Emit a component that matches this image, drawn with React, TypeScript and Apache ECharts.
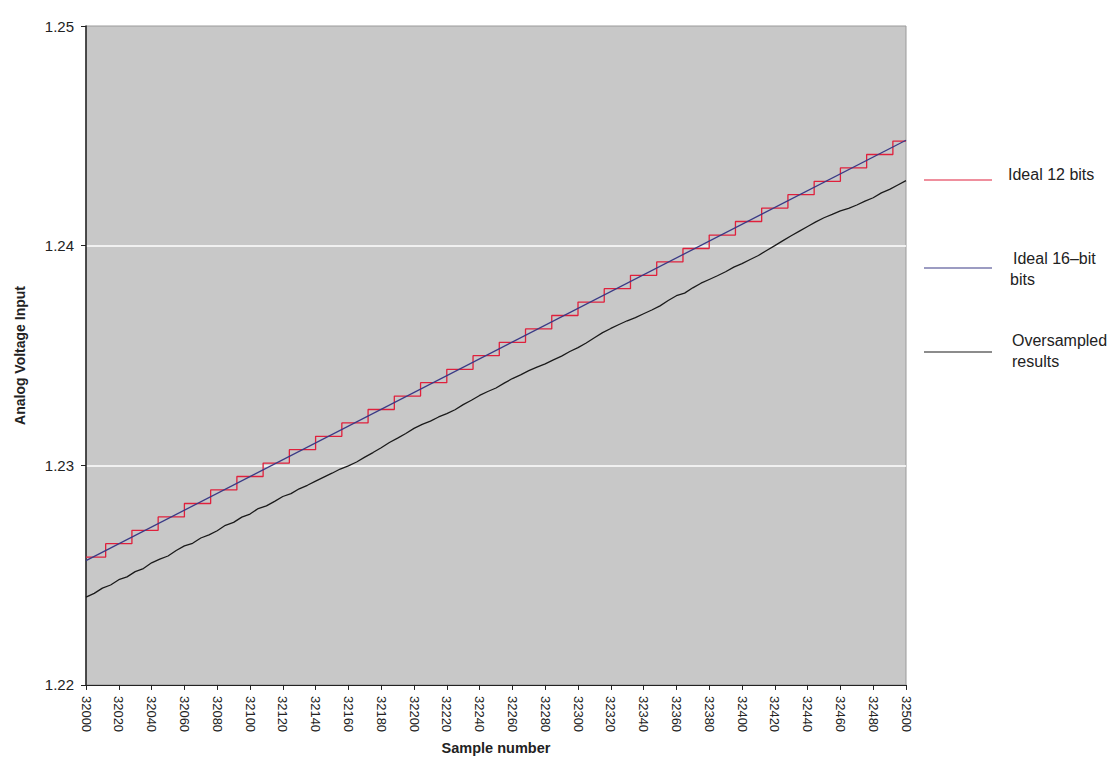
import React, { useEffect, useRef } from "react";
import * as echarts from "echarts";

// ---- data ----
const idealSamples = [32000, 32500];
const ideal16Values = [1.22566, 1.2448];

const stepSamples = [
  32000, 32012, 32028, 32044, 32060, 32076, 32092, 32108, 32124, 32140, 32156,
  32172, 32188, 32204, 32220, 32236, 32252, 32268, 32284, 32300, 32316, 32332,
  32348, 32364, 32380, 32396, 32412, 32428, 32444, 32460, 32476, 32492, 32500,
];
const ideal12Values = [
  1.22582, 1.22643, 1.22704, 1.22765, 1.22826, 1.22888, 1.22949, 1.2301,
  1.23071, 1.23132, 1.23193, 1.23254, 1.23315, 1.23376, 1.23437, 1.23499,
  1.2356, 1.23621, 1.23682, 1.23743, 1.23804, 1.23865, 1.23926, 1.23987,
  1.24048, 1.2411, 1.24171, 1.24232, 1.24293, 1.24354, 1.24415, 1.24476,
  1.24476,
];

const oversampledStart = 32000;
const oversampledStep = 5;
const oversampledValues = [
  1.224, 1.22417, 1.22441, 1.22455, 1.22479, 1.22492, 1.22516, 1.2253, 1.22556,
  1.22573, 1.22587, 1.22612, 1.22633, 1.22645, 1.22669, 1.22683, 1.22702,
  1.22727, 1.2274, 1.22764, 1.22778, 1.22803, 1.22815, 1.22836, 1.22858,
  1.22871, 1.22893, 1.22909, 1.22928, 1.22946, 1.22964, 1.22983, 1.22997,
  1.23015, 1.23037, 1.23058, 1.2308, 1.23104, 1.23124, 1.23145, 1.23168,
  1.23186, 1.23201, 1.2322, 1.23235, 1.23253, 1.23276, 1.23296, 1.23318,
  1.23336, 1.23352, 1.23374, 1.23395, 1.23412, 1.23431, 1.23447, 1.23462,
  1.2348, 1.23497, 1.23518, 1.23536, 1.23557, 1.23581, 1.23604, 1.23623,
  1.23641, 1.23658, 1.23672, 1.2369, 1.23707, 1.23726, 1.2375, 1.23772,
  1.23784, 1.23808, 1.23829, 1.23846, 1.23863, 1.23881, 1.23902, 1.23918,
  1.23937, 1.23955, 1.23978, 1.24, 1.24023, 1.24045, 1.24066, 1.24087,
  1.24108, 1.24127, 1.24142, 1.24158, 1.2417, 1.24185, 1.24203, 1.24218,
  1.2424, 1.24256, 1.24276, 1.24296,
];

const legendItems = [
  { label: ["Ideal 12 bits"], color: "#e0203c" },
  { label: ["Ideal 16\u2013bit", "bits"], color: "#3a3a86" },
  { label: ["Oversampled", "results"], color: "#1a1a1a" },
];

const FONT = "'Liberation Sans', Arial, sans-serif";

export default function App() {
  const ref = useRef<HTMLDivElement>(null);

  useEffect(() => {
    document.body.style.margin = "0";
    document.body.style.overflow = "hidden";
    if (!ref.current) return;
    const chart = echarts.init(ref.current, null, { renderer: "svg" });

    const ideal16 = idealSamples.map((s, i) => [s, ideal16Values[i]]);
    const ideal12 = stepSamples.map((s, i) => [s, ideal12Values[i]]);
    const over = oversampledValues.map((v, i) => [
      oversampledStart + i * oversampledStep,
      v,
    ]);

    const legendLineY = [180, 268, 352];
    const legendTextX = [[1008], [1013, 1010], [1012, 1012]];
    const legendTextY = [[174], [258, 279], [340, 361]];

    const graphics: any[] = [];
    legendItems.forEach((it, i) => {
      graphics.push({
        type: "line",
        shape: { x1: 924, y1: legendLineY[i], x2: 992, y2: legendLineY[i] },
        style: { stroke: it.color, lineWidth: 1.2 },
      });
      it.label.forEach((t, j) => {
        graphics.push({
          type: "text",
          x: legendTextX[i][j],
          y: legendTextY[i][j],
          style: {
            text: t,
            fill: "#222",
            font: `16px ${FONT}`,
            textVerticalAlign: "middle",
          },
        });
      });
    });

    chart.setOption({
      animation: false,
      backgroundColor: "#ffffff",
      grid: {
        left: 86,
        top: 26,
        width: 820,
        height: 668,
        show: true,
        backgroundColor: "#c8c8c8",
        borderColor: "#9a9a9a",
        borderWidth: 1,
      },
      xAxis: {
        type: "value",
        min: 32000,
        max: 32500,
        interval: 20,
        name: "Sample number",
        nameLocation: "middle",
        nameGap: 52,
        nameTextStyle: {
          fontFamily: FONT,
          fontWeight: "bold",
          fontSize: 14.5,
          color: "#222",
        },
        axisLine: { show: true, lineStyle: { color: "#222", width: 1 } },
        axisTick: { show: true, length: 5, lineStyle: { color: "#222" } },
        axisLabel: {
          rotate: -90,
          margin: 11,
          fontFamily: FONT,
          fontSize: 13,
          color: "#222",
          formatter: (v: number) => String(v),
        },
        splitLine: { show: false },
      },
      yAxis: {
        type: "value",
        min: 1.22,
        max: 1.25,
        interval: 0.01,
        name: "Analog Voltage Input",
        nameLocation: "middle",
        nameRotate: 90,
        nameGap: 59,
        nameTextStyle: {
          fontFamily: FONT,
          fontWeight: "bold",
          fontSize: 14,
          color: "#222",
        },
        axisLine: { show: true, lineStyle: { color: "#222", width: 1.5 } },
        axisTick: { show: true, length: 5, lineStyle: { color: "#222" } },
        axisLabel: {
          margin: 12,
          fontFamily: FONT,
          fontSize: 15,
          color: "#222",
          formatter: (v: number) => v.toFixed(2),
        },
        splitLine: {
          show: true,
          showMinLine: false,
          showMaxLine: false,
          lineStyle: { color: "#ffffff", width: 1.5 },
        },
      },
      graphic: graphics,
      series: [
        {
          name: "Ideal 16-bit",
          type: "line",
          data: ideal16,
          showSymbol: false,
          symbol: "none",
          lineStyle: { color: "#3a3a86", width: 1.3 },
          z: 3,
        },
        {
          name: "Ideal 12 bits",
          type: "line",
          step: "end",
          data: ideal12,
          showSymbol: false,
          symbol: "none",
          lineStyle: { color: "#e0203c", width: 1.3 },
          z: 2,
        },
        {
          name: "Oversampled results",
          type: "line",
          data: over,
          showSymbol: false,
          symbol: "none",
          lineStyle: { color: "#1a1a1a", width: 1.3 },
          z: 4,
        },
      ],
    });

    return () => chart.dispose();
  }, []);

  return (
    <div
      ref={ref}
      style={{
        width: 1112,
        height: 760,
        background: "#fff",
      }}
    />
  );
}
